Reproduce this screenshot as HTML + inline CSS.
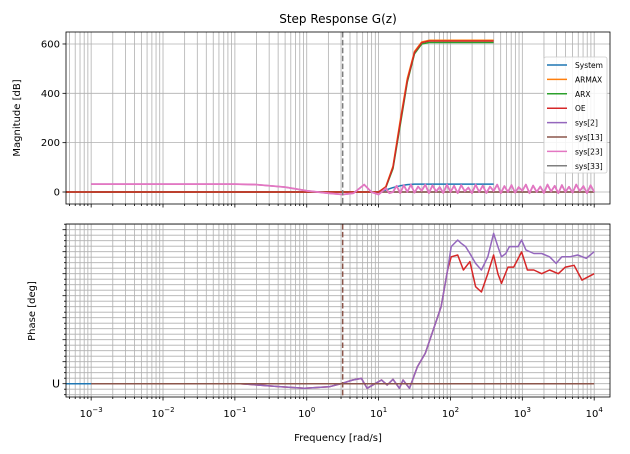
<!DOCTYPE html>
<html><head><meta charset="utf-8"><style>
html,body{margin:0;padding:0;background:#fff}
svg{display:block;font-family:"DejaVu Sans","Liberation Sans",sans-serif}
</style></head><body>
<svg id="c" width="630" height="454" viewBox="0 0 630 454"></svg>
<script>
const magXMin=-3.35, magXMax=4.22;
const decades=[-3,-2,-1,0,1,2,3,4];
const magTicks=[0,200,400,600];
const phaseMajors=[0,1,2,3,4,5,6,7];
const seriesNames=["System","ARMAX","ARX","OE","sys[2]","sys[13]","sys[23]","sys[33]"];
const seriesColors=["#1f77b4","#ff7f0e","#2ca02c","#d62728","#9467bd","#8c564b","#e377c2","#7f7f7f"];
const cutoffLog=0.5;
// magnitude data (log10 freq, dB)
const sigLog=[-3.35,1.0,1.1,1.2,1.3,1.4,1.5,1.6,1.7,1.8,2.6];
const armaxMag=[0,0,22,105,290,460,570,608,615,615,615];
const arxMag=[0,0,18,95,270,445,560,600,606,606,606];
const oeMag=[0,0,20,100,280,452,565,605,612,612,612];
const sysLog=[-3.35,1.0,1.1,1.2,1.3,1.4,1.5,2.6];
const sysMag=[0,0,8,18,25,30,32,32];
const pinkLowLog=[-3,-1,-0.7,-0.3,0,0.3,0.5,0.65,0.8,0.9,1.0,1.1,1.15];
const pinkLowMag=[32,32,30,20,5,-5,-10,-5,30,0,-10,15,-5];
const pinkNoise=[0,25,-5,28,0,30,-3,22,5,30,-5,27,2,20,-4,30,0,25,-5,28,3,18,-5,30,0,26,-4,22,4,30,-5,24,0,28,-3,20,5,30,-5,26,0,22,-4,30,2,25,-5,28,0,21,-3,30,4,24,-5,27,0];
const flatLog=[-3,4];
const flatMag=[0,0];
// phase data
const purpleLog=[-2.99,-0.92,-0.36,-0.03,0.31,0.48,0.64,0.76,0.84,0.95,1.04,1.12,1.20,1.29,1.34,1.43,1.54,1.65,1.76,1.87,1.96,2.01,2.10,2.15,2.21,2.27,2.35,2.43,2.52,2.60,2.66,2.71,2.77,2.82,2.94,2.99,3.05,3.16,3.27,3.38,3.47,3.55,3.66,3.77,3.89,4.0];
const purplePh=[0,0,-0.14,-0.21,-0.14,0,0.17,0.24,-0.21,0,0.17,-0.06,0.2,-0.21,0.17,-0.21,0.77,1.38,2.44,3.5,5.17,6.23,6.53,6.38,6.23,5.92,5.47,5.17,5.77,6.83,6.23,5.77,5.92,6.23,6.23,6.53,6.08,5.92,5.92,5.77,5.47,5.77,5.77,5.85,5.7,6.0];
const redLog=[-2.99,-0.92,-0.36,-0.03,0.31,0.48,0.64,0.76,0.84,0.95,1.04,1.12,1.20,1.29,1.34,1.43,1.54,1.65,1.76,1.87,1.96,2.01,2.10,2.18,2.27,2.35,2.43,2.52,2.60,2.66,2.71,2.80,2.88,2.99,3.07,3.16,3.27,3.38,3.50,3.60,3.72,3.83,4.0];
const redPh=[0,0,-0.14,-0.21,-0.14,0,0.17,0.24,-0.21,0,0.17,-0.06,0.2,-0.21,0.17,-0.21,0.77,1.38,2.44,3.5,5.17,5.77,5.85,5.17,5.55,4.41,4.17,5.0,5.85,5.0,4.56,5.3,5.3,5.99,5.17,5.17,5.0,5.17,5.0,5.3,5.38,4.71,5.0];
const blueLog=[-3.35,2.6];
const bluePh=[0,0];
const brownLog=[-3,4];
const brownPh=[0,0];

const NS="http://www.w3.org/2000/svg";
const svg=document.getElementById('c');
const L=66,R=610,T1=32,B1=204,T2=224,B2=397;
const X=v=>L+(v-magXMin)/(magXMax-magXMin)*(R-L);
const Y1=v=>192-v*0.2467;
const Y2=v=>383.7-v*22;
function mk(tag,attrs,parent){const e=document.createElementNS(NS,tag);for(const k in attrs)e.setAttribute(k,attrs[k]);(parent||svg).appendChild(e);return e;}
function poly(xs,ys,yf,color,w,g){let d="";for(let i=0;i<xs.length;i++)d+=(i?"L":"M")+X(xs[i]).toFixed(1)+","+yf(ys[i]).toFixed(1);return mk('path',{d:d,fill:'none',stroke:color,'stroke-width':w,'stroke-linejoin':'round'},g);}

function axes(top,bot,name){
  const g=mk('g',{});
  
  
  const grid=mk('g',{stroke:'#b0b0b0','stroke-width':0.8},g);
  
  
  for(let d=-4;d<=4;d++)for(let m=1;m<=9;m++){const lv=d+Math.log10(m);if(lv<magXMin||lv>magXMax)continue;const x=X(lv);mk('line',{x1:x,x2:x,y1:top,y2:bot},grid);
    mk('line',{x1:x,x2:x,y1:bot,y2:bot+(m==1?3.5:2),stroke:'#000','stroke-width':0.8},g);}
  return g;
}
const g1=axes(T1,B1,'magnitude-axes');
magTicks.forEach(v=>{const y=Y1(v);mk('line',{x1:L,x2:R,y1:y,y2:y,stroke:'#b0b0b0','stroke-width':0.8},g1);mk('line',{x1:L-3.5,x2:L,y1:y,y2:y,stroke:'#000','stroke-width':0.8},g1);const t=mk('text',{x:L-6,y:y+3.5,'text-anchor':'end','font-size':10},g1);t.textContent=v;});
const g2=axes(T2,B2,'phase-axes');
for(let q=-2;q<=29;q++){const v=q/4;const y=Y2(v);if(y<T2||y>B2)continue;const major=q%4==0;mk('line',{x1:L,x2:R,y1:y,y2:y,stroke:'#b0b0b0','stroke-width':0.8},g2);mk('line',{x1:L-(major?3.5:2),x2:L,y1:y,y2:y,stroke:'#000','stroke-width':0.8},g2);}
{const t=mk('text',{x:L-6,y:Y2(0)+4,'text-anchor':'end','font-size':11},g2);t.textContent='U';}
decades.forEach(d=>{const t=mk('text',{x:X(d),y:417,'text-anchor':'middle','font-size':10});
  const a=mk('tspan',{},t);a.textContent='10';const b=mk('tspan',{dy:-5,'font-size':7},t);b.textContent=String(d).replace('-','−');});

const defs=mk('defs',{});
const cp1=mk('clipPath',{id:'clip1'},defs);mk('rect',{x:L,y:T1,width:R-L,height:B1-T1},cp1);
const cp2=mk('clipPath',{id:'clip2'},defs);mk('rect',{x:L,y:T2,width:R-L,height:B2-T2},cp2);
const cm=mk('g',{'clip-path':'url(#clip1)'});
let p;
p=poly(flatLog,flatMag,Y1,seriesColors[7],1.5,cm);
p=poly(flatLog,flatMag,Y1,seriesColors[5],1.5,cm);
p=poly(sysLog,sysMag,Y1,seriesColors[0],1.5,cm);
p=poly(sigLog,armaxMag,Y1,seriesColors[1],1.5,cm);
p=poly(sigLog,arxMag,Y1,seriesColors[2],1.5,cm);
p=poly(sigLog,oeMag,Y1,seriesColors[3],1.5,cm);
const pLog=pinkLowLog.slice(),pMag=pinkLowMag.slice();
pinkNoise.forEach((v,i)=>{pLog.push(1.2+i*0.05);pMag.push(v);});
p=poly(pLog,pMag,Y1,seriesColors[4],1.5,cm);
p=poly(pLog,pMag,Y1,seriesColors[6],1.8,cm);
const cph=mk('g',{'clip-path':'url(#clip2)'});
p=poly(blueLog,bluePh,Y2,seriesColors[0],1.5,cph);
p=poly(redLog,redPh,Y2,seriesColors[3],1.5,cph);
p=poly(purpleLog,purplePh,Y2,seriesColors[4],1.5,cph);
p=poly(brownLog,brownPh,Y2,seriesColors[5],1.5,cph);
const cx=X(cutoffLog);
p=mk('line',{x1:cx,x2:cx,y1:T1,y2:B1,stroke:'#7f7f7f','stroke-width':1.5,'stroke-dasharray':'5.5,2.4'});
p=mk('line',{x1:cx,x2:cx,y1:T2,y2:B2,stroke:'#8c564b','stroke-width':1.5,'stroke-dasharray':'5.5,2.4'});
p=mk('rect',{x:L,y:T1,width:R-L,height:B1-T1,fill:'none',stroke:'#000','stroke-width':0.8});
p=mk('rect',{x:L,y:T2,width:R-L,height:B2-T2,fill:'none',stroke:'#000','stroke-width':0.8});
const lg=mk('g',{});


mk('rect',{x:544,y:57,width:63,height:116,rx:2,fill:'#fff','fill-opacity':0.85,stroke:'#ccc','stroke-width':0.8},lg);
seriesNames.forEach((n,i)=>{const y=65+i*14.4;const e=mk('g',{},lg);
  
  
  mk('line',{x1:547,x2:567,y1:y,y2:y,stroke:seriesColors[i],'stroke-width':1.5},e);
  const t=mk('text',{x:575,y:y+3,'font-size':7.5},e);t.textContent=n;});
let t=mk('text',{x:338,y:23,'text-anchor':'middle','font-size':12});t.textContent='Step Response G(z)';
t=mk('text',{x:0,y:0,'text-anchor':'middle','font-size':10,transform:'translate(20,118) rotate(-90)'});t.textContent='Magnitude [dB]';
t=mk('text',{x:0,y:0,'text-anchor':'middle','font-size':10,transform:'translate(35,311) rotate(-90)'});t.textContent='Phase [deg]';
t=mk('text',{x:338,y:441,'text-anchor':'middle','font-size':10});t.textContent='Frequency [rad/s]';
</script>
</body></html>
